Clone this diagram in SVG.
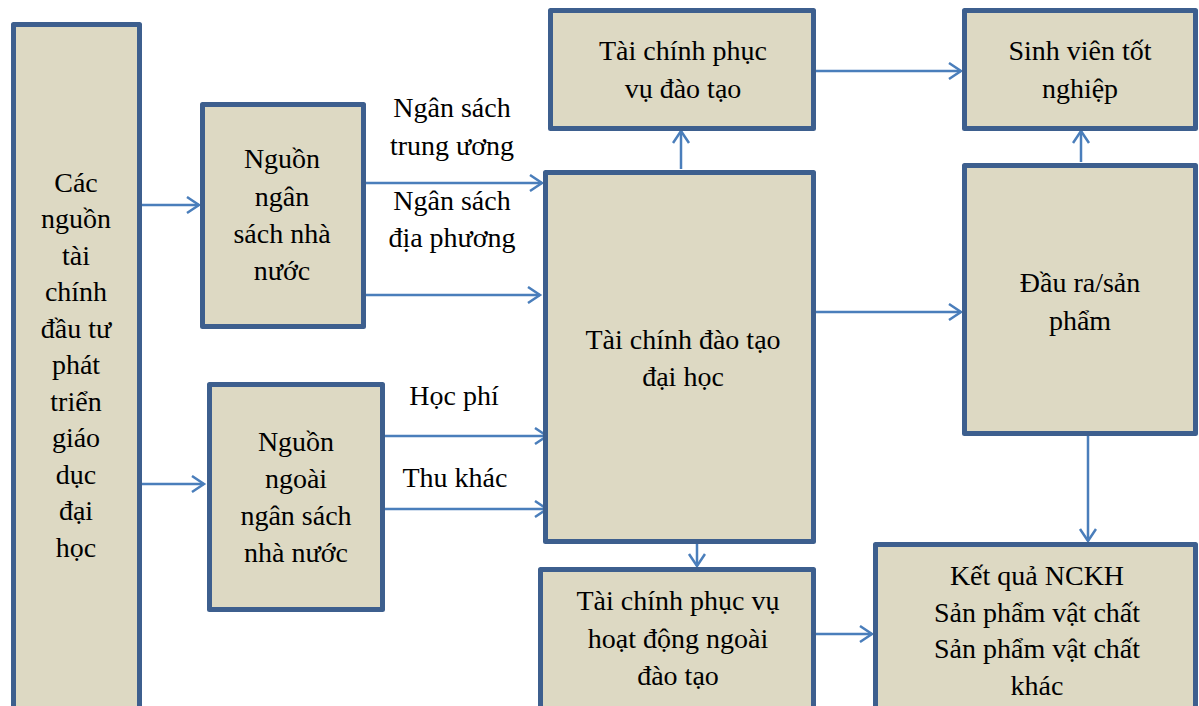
<svg xmlns="http://www.w3.org/2000/svg" width="1199" height="706" viewBox="0 0 1199 706" font-family="Liberation Serif, DejaVu Serif, serif" font-size="28" text-anchor="middle">
<style>
.box{fill:#ddd9c3;stroke:#3d5f8e;stroke-width:5;stroke-linejoin:round}
.c{fill:none;stroke:#4a7ebb;stroke-width:2.5;marker-end:url(#ah)}
</style>
<defs>
<marker id="ah" markerUnits="userSpaceOnUse" markerWidth="20" markerHeight="20" refX="13" refY="9" orient="auto" viewBox="0 0 20 20">
<path d="M1,1 L13,9 L1,17" fill="none" stroke="#4a7ebb" stroke-width="2.5"/>
</marker>
</defs>
<rect width="1199" height="706" fill="#fff"/>
<g id="connectors">
<line class="c" x1="141" y1="205" x2="199" y2="205"/>
<line class="c" x1="141" y1="484" x2="204" y2="484"/>
<line class="c" x1="366" y1="183" x2="542" y2="183"/>
<line class="c" x1="366" y1="295" x2="540" y2="295"/>
<line class="c" x1="385" y1="436" x2="547" y2="436"/>
<line class="c" x1="385" y1="509" x2="547" y2="509"/>
<line class="c" x1="681" y1="169" x2="681" y2="131"/>
<line class="c" x1="816" y1="71" x2="961" y2="71"/>
<line class="c" x1="816" y1="312" x2="961" y2="312"/>
<line class="c" x1="1081" y1="162" x2="1081" y2="131"/>
<line class="c" x1="1088" y1="436" x2="1088" y2="541"/>
<line class="c" x1="697" y1="544" x2="697" y2="566"/>
<line class="c" x1="816" y1="634" x2="872" y2="634"/>
</g>
<g id="n-sources">
<rect class="box" x="13.5" y="24.5" width="126" height="700"/>
<text x="76" y="192">Các</text>
<text x="76" y="228">nguồn</text>
<text x="76" y="265">tài</text>
<text x="76" y="301">chính</text>
<text x="76" y="338">đầu tư</text>
<text x="76" y="374">phát</text>
<text x="76" y="411">triển</text>
<text x="76" y="447">giáo</text>
<text x="76" y="484">dục</text>
<text x="76" y="520">đại</text>
<text x="76" y="557">học</text>
</g>
<g id="n-state">
<rect class="box" x="202.5" y="104.5" width="161" height="222"/>
<text x="282" y="168">Nguồn</text>
<text x="282" y="206">ngân</text>
<text x="282" y="243">sách nhà</text>
<text x="282" y="280">nước</text>
</g>
<g id="n-nonstate">
<rect class="box" x="209.5" y="384.5" width="173" height="225"/>
<text x="296" y="451">Nguồn</text>
<text x="296" y="488">ngoài</text>
<text x="296" y="525">ngân sách</text>
<text x="296" y="562">nhà nước</text>
</g>
<g id="labels">
<text x="452" y="117">Ngân sách</text>
<text x="452" y="155">trung ương</text>
<text x="452" y="210">Ngân sách</text>
<text x="452" y="247">địa phương</text>
<text x="454" y="405">Học phí</text>
<text x="455" y="487">Thu khác</text>
</g>
<g id="n-training">
<rect class="box" x="550.5" y="10.5" width="263" height="118"/>
<text x="683" y="60">Tài chính phục</text>
<text x="683" y="98">vụ đào tạo</text>
</g>
<g id="n-univ">
<rect class="box" x="545.5" y="172.5" width="268" height="369"/>
<text x="683" y="349">Tài chính đào tạo</text>
<text x="683" y="386">đại học</text>
</g>
<g id="n-other">
<rect class="box" x="540.5" y="569.5" width="273" height="200"/>
<text x="678" y="610">Tài chính phục vụ</text>
<text x="678" y="648">hoạt động ngoài</text>
<text x="678" y="685">đào tạo</text>
</g>
<g id="n-grad">
<rect class="box" x="964.5" y="10.5" width="231" height="118"/>
<text x="1080" y="60">Sinh viên tốt</text>
<text x="1080" y="98">nghiệp</text>
</g>
<g id="n-output">
<rect class="box" x="964.5" y="165.5" width="231" height="268"/>
<text x="1080" y="292">Đầu ra/sản</text>
<text x="1080" y="330">phẩm</text>
</g>
<g id="n-research">
<rect class="box" x="875.5" y="544.5" width="320" height="200"/>
<text x="1037" y="585">Kết quả NCKH</text>
<text x="1037" y="622">Sản phẩm vật chất</text>
<text x="1037" y="658">Sản phẩm vật chất</text>
<text x="1037" y="695">khác</text>
</g>
</svg>
